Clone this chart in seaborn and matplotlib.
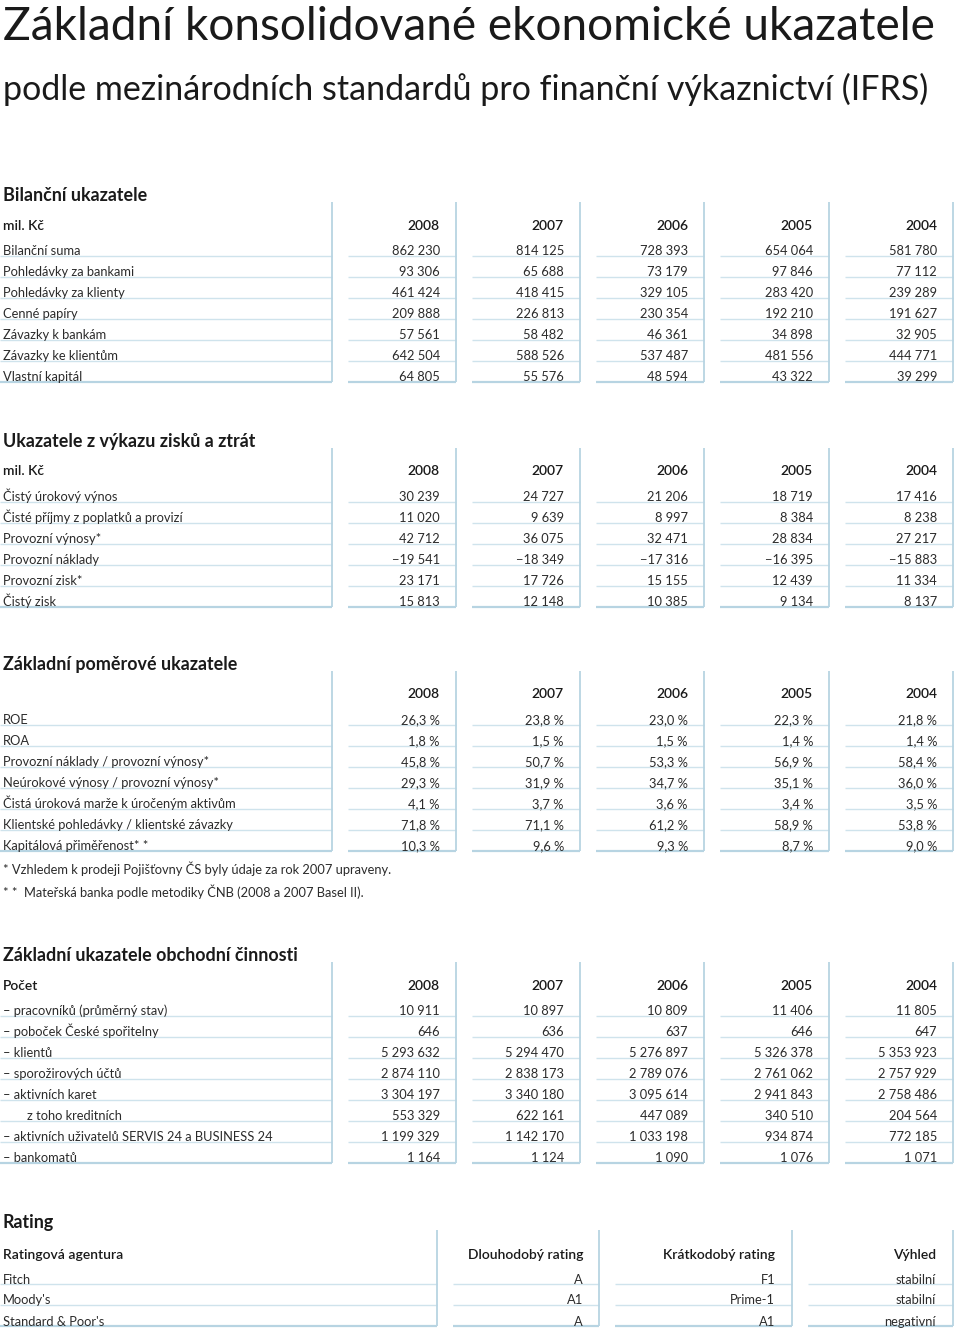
import matplotlib
matplotlib.use("Agg")
import matplotlib.pyplot as plt
import seaborn as sns

# ---------------- data ----------------
title = "Základní konsolidované ekonomické ukazatele"
subtitle = "podle mezinárodních standardů pro finanční výkaznictví (IFRS)"
years = ["2008", "2007", "2006", "2005", "2004"]

bil_heading = "Bilanční ukazatele"
bil_unit = "mil. Kč"
bil_labels = ["Bilanční suma", "Pohledávky za bankami", "Pohledávky za klienty",
              "Cenné papíry", "Závazky k bankám", "Závazky ke klientům", "Vlastní kapitál"]
bil_values = [
    [862230, 814125, 728393, 654064, 581780],
    [93306, 65688, 73179, 97846, 77112],
    [461424, 418415, 329105, 283420, 239289],
    [209888, 226813, 230354, 192210, 191627],
    [57561, 58482, 46361, 34898, 32905],
    [642504, 588526, 537487, 481556, 444771],
    [64805, 55576, 48594, 43322, 39299],
]

pl_heading = "Ukazatele z výkazu zisků a ztrát"
pl_unit = "mil. Kč"
pl_labels = ["Čistý úrokový výnos", "Čisté příjmy z poplatků a provizí", "Provozní výnosy*",
             "Provozní náklady", "Provozní zisk*", "Čistý zisk"]
pl_values = [
    [30239, 24727, 21206, 18719, 17416],
    [11020, 9639, 8997, 8384, 8238],
    [42712, 36075, 32471, 28834, 27217],
    [-19541, -18349, -17316, -16395, -15883],
    [23171, 17726, 15155, 12439, 11334],
    [15813, 12148, 10385, 9134, 8137],
]

ratio_heading = "Základní poměrové ukazatele"
ratio_unit = ""
ratio_labels = ["ROE", "ROA", "Provozní náklady / provozní výnosy*",
                "Neúrokové výnosy / provozní výnosy*", "Čistá úroková marže k úročeným aktivům",
                "Klientské pohledávky / klientské závazky", "Kapitálová přiměřenost* *"]
ratio_values = [
    [26.3, 23.8, 23.0, 22.3, 21.8],
    [1.8, 1.5, 1.5, 1.4, 1.4],
    [45.8, 50.7, 53.3, 56.9, 58.4],
    [29.3, 31.9, 34.7, 35.1, 36.0],
    [4.1, 3.7, 3.6, 3.4, 3.5],
    [71.8, 71.1, 61.2, 58.9, 53.8],
    [10.3, 9.6, 9.3, 8.7, 9.0],
]
footnotes = ["* Vzhledem k prodeji Pojišťovny ČS byly údaje za rok 2007 upraveny.",
             "* *  Mateřská banka podle metodiky ČNB (2008 a 2007 Basel II)."]

biz_heading = "Základní ukazatele obchodní činnosti"
biz_unit = "Počet"
biz_labels = ["– pracovníků (průměrný stav)", "– poboček České spořitelny", "– klientů",
              "– sporožirových účtů", "– aktivních karet", "z toho kreditních",
              "– aktivních uživatelů SERVIS 24 a BUSINESS 24", "– bankomatů"]
biz_indent = [False, False, False, False, False, True, False, False]
biz_values = [
    [10911, 10897, 10809, 11406, 11805],
    [646, 636, 637, 646, 647],
    [5293632, 5294470, 5276897, 5326378, 5353923],
    [2874110, 2838173, 2789076, 2761062, 2757929],
    [3304197, 3340180, 3095614, 2941843, 2758486],
    [553329, 622161, 447089, 340510, 204564],
    [1199329, 1142170, 1033198, 934874, 772185],
    [1164, 1124, 1090, 1076, 1071],
]

rating_heading = "Rating"
rating_columns = ["Ratingová agentura", "Dlouhodobý rating", "Krátkodobý rating", "Výhled"]
rating_agencies = ["Fitch", "Moody's", "Standard & Poor's"]
rating_long = ["A", "A1", "A"]
rating_short = ["F1", "Prime-1", "A1"]
rating_outlook = ["stabilní", "stabilní", "negativní"]

# ---------------- style ----------------
sns.set_theme(style="white")
FONT = ["Lato", "DejaVu Sans"]
plt.rcParams["font.family"] = FONT
TXT = "#2b2b2b"
HEAD = "#1a1a1a"
HL = "#cfe3ec"
VL = "#b7d4e2"
ROW = 21.0
BODY = 9.3
HSIZE = 12.9

fig = plt.figure(figsize=(9.6, 13.31), dpi=100)
ax = fig.add_axes([0, 0, 1, 1])
ax.set_xlim(0, 960)
ax.set_ylim(1331, 0)
ax.axis("off")

def fmt_int(v):
    s = f"{abs(v):,}".replace(",", " ")
    return ("−" if v < 0 else "") + s

def fmt_pct(v):
    return f"{v:.1f}".replace(".", ",") + " %"

def fit_text(x, y, s, width, weight="normal", size=30):
    t = ax.text(x, y, s, fontsize=size, fontweight=weight, color=HEAD, va="baseline", ha="left")
    fig.canvas.draw()
    w = t.get_window_extent().width
    t.set_fontsize(size * width / w)
    return t

fit_text(3, 40, title, 932)
fit_text(3, 100, subtitle, 922)

val_right = [440, 564, 688, 813, 937]
vlines_x = [332, 456, 580, 704, 829, 953]
segments = [(0, 332), (348, 456), (472, 580), (596, 704), (720, 829), (845, 953)]

def draw_table(y0, heading, unit, labels, values, fmt, indent=None):
    n = len(labels)
    ylast = y0 + ROW * (n - 1)
    ax.text(3, y0 - 55, heading, fontsize=HSIZE, fontweight="bold", color=HEAD, va="baseline")
    if unit:
        ax.text(3, y0 - 26.5, unit, fontsize=BODY + 0.7, fontweight="semibold", color=HEAD, va="baseline")
    for j, yr in enumerate(years):
        ax.text(val_right[j], y0 - 26.5, yr, fontsize=BODY + 0.7, fontweight="semibold",
                color=HEAD, va="baseline", ha="right")
    for i, lab in enumerate(labels):
        y = y0 + ROW * i
        last = i == n - 1
        for (a, b) in segments:
            ax.hlines(y, a, b, color=VL if last else HL, lw=1.6 if last else 1.0)
        xl = 27 if (indent and indent[i]) else 3
        ax.text(xl, y - 0.8, lab, fontsize=BODY, color=TXT, va="baseline")
        for j in range(len(years)):
            ax.text(val_right[j], y - 0.8, fmt(values[i][j]), fontsize=BODY, color=TXT,
                    va="baseline", ha="right")
    ax.vlines(vlines_x, y0 - 54, ylast, color=VL, lw=1.3)

draw_table(256, bil_heading, bil_unit, bil_labels, bil_values, fmt_int)
draw_table(501.7, pl_heading, pl_unit, pl_labels, pl_values, fmt_int)
draw_table(725, ratio_heading, ratio_unit, ratio_labels, ratio_values, fmt_pct)
for k, fn in enumerate(footnotes):
    ax.text(3, 874.5 + 22.5 * k, fn, fontsize=BODY, color=TXT, va="baseline")
draw_table(1016, biz_heading, biz_unit, biz_labels, biz_values, fmt_int, biz_indent)

# rating table
ry0 = 1284.3
r_segments = [(0, 437), (453, 599), (615, 792), (808, 953)]
r_vlines = [437, 599, 792, 953]
r_right = [583, 775, 936]
ax.text(3, ry0 - 56, rating_heading, fontsize=HSIZE, fontweight="bold", color=HEAD, va="baseline")
ax.text(3, ry0 - 25, rating_columns[0], fontsize=BODY + 0.7, fontweight="semibold", color=HEAD, va="baseline")
for j, col in enumerate(rating_columns[1:]):
    ax.text(r_right[j], ry0 - 25, col, fontsize=BODY + 0.7, fontweight="semibold",
            color=HEAD, va="baseline", ha="right")
cols = [rating_long, rating_short, rating_outlook]
for i, ag in enumerate(rating_agencies):
    y = ry0 + ROW * i
    last = i == len(rating_agencies) - 1
    for (a, b) in r_segments:
        ax.hlines(y, a, b, color=VL if last else HL, lw=1.6 if last else 1.0)
    ax.text(3, y - 0.8, ag, fontsize=BODY, color=TXT, va="baseline")
    for j, c in enumerate(cols):
        ax.text(r_right[j], y - 0.8, c[i], fontsize=BODY, color=TXT, va="baseline", ha="right")
ax.vlines(r_vlines, ry0 - 54, ry0 + ROW * (len(rating_agencies) - 1), color=VL, lw=1.3)

fig.savefig("out.png", dpi=100)
